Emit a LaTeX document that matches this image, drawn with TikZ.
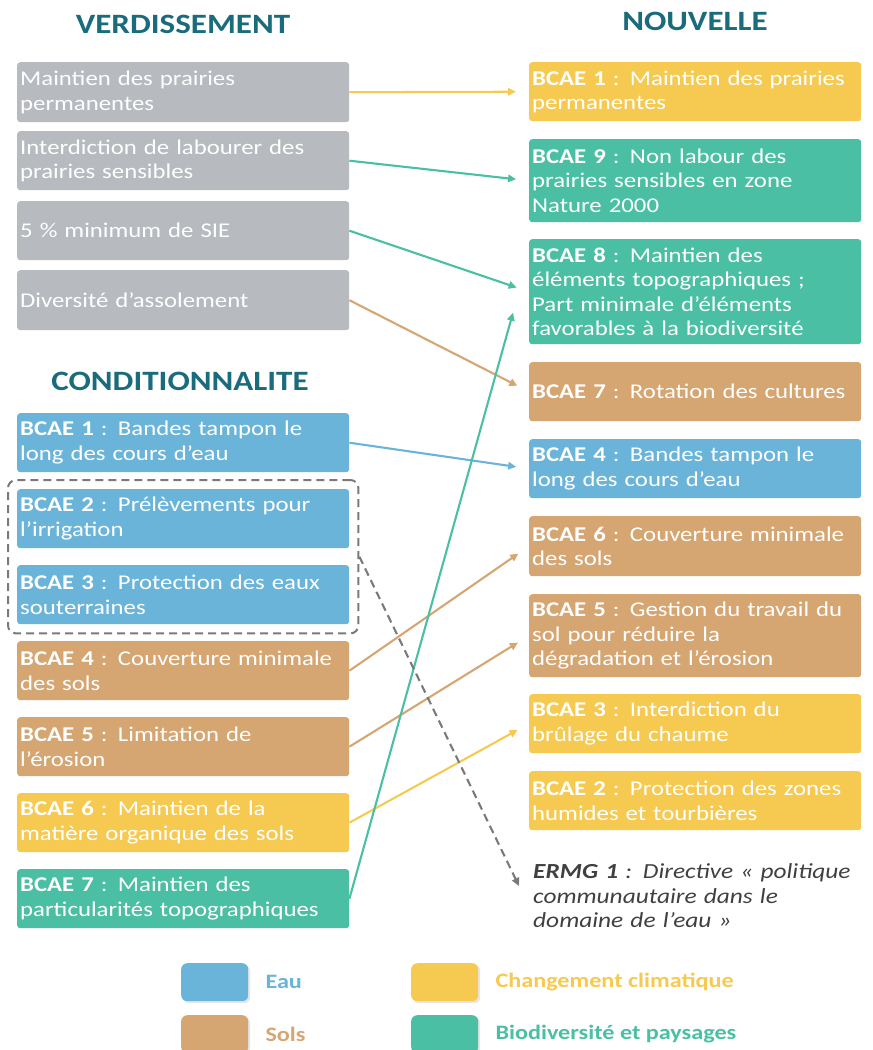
\documentclass[tikz,border=0pt]{standalone}
\usepackage{fontspec}
\setmainfont{Carlito}[FakeStretch=1.18]
\usetikzlibrary{arrows.meta,fit,shadows}
\definecolor{gris}{HTML}{B7BABF}
\definecolor{bleu}{HTML}{6AB4DA}
\definecolor{brun}{HTML}{D5A572}
\definecolor{jaune}{HTML}{F6CA50}
\definecolor{vert}{HTML}{4BBFA4}
\definecolor{titre}{HTML}{1A6B7B}
\definecolor{texte}{HTML}{404040}
\definecolor{tiret}{HTML}{7A7A7A}
\begin{document}
\begin{tikzpicture}[x=1pt,y=-1pt,
  boite/.style={anchor=north west, minimum width=332pt, text width=326pt,
    inner xsep=3pt, inner ysep=0pt, align=left, rounded corners=3pt,
    text=white, font=\fontsize{21}{24.5}\selectfont},
  fleche/.style={line width=2.1pt, -{Triangle[length=8pt,width=7.5pt]}, shorten >=13pt},
  titre/.style={font=\fontsize{28}{32}\selectfont\bfseries, text=titre},
  cle/.style={anchor=north west, minimum width=67pt, minimum height=38pt,
    rounded corners=6pt, drop shadow={opacity=0.2, shadow xshift=2pt, shadow yshift=-2pt}},
  legende/.style={anchor=west, font=\fontsize{20.5}{24}\selectfont\bfseries}]
\useasboundingbox (0,0) rectangle (873,1050);

% titres
\node[titre] (tverd) at (183,24) {VERDISSEMENT};
\node[titre] (tnouv) at (695,21) {NOUVELLE};
\node[titre] (tcond) at (180,381) {CONDITIONNALITE};

% verdissement
\node[boite, fill=gris, minimum height=60pt] (v1) at (17,62) {Maintien des prairies\\permanentes};
\node[boite, fill=gris, minimum height=59pt] (v2) at (17,131) {Interdiction de labourer des\\prairies sensibles};
\node[boite, fill=gris, minimum height=59pt] (v3) at (17,201) {5~\% minimum de SIE};
\node[boite, fill=gris, minimum height=60pt] (v4) at (17,270) {Diversité d’assolement};

% conditionnalite
\node[boite, fill=bleu, minimum height=59pt] (c1) at (17,413) {\textbf{BCAE 1} : Bandes tampon le\\long des cours d’eau};
\node[boite, fill=bleu, minimum height=59pt] (c2) at (17,489) {\textbf{BCAE 2} : Prélèvements pour\\l’irrigation};
\node[boite, fill=bleu, minimum height=59pt] (c3) at (17,565) {\textbf{BCAE 3} : Protection des eaux\\souterraines};
\node[boite, fill=brun, minimum height=59pt] (c4) at (17,641) {\textbf{BCAE 4} : Couverture minimale\\des sols};
\node[boite, fill=brun, minimum height=59pt] (c5) at (17,717) {\textbf{BCAE 5} : Limitation de\\l’érosion};
\node[boite, fill=jaune, minimum height=59pt] (c6) at (17,793) {\textbf{BCAE 6} : Maintien de la\\matière organique des sols};
\node[boite, fill=vert, minimum height=59pt] (c7) at (17,869) {\textbf{BCAE 7} : Maintien des\\particularités topographiques};
\node[draw=tiret, line width=2pt, dash pattern=on 8pt off 5pt, rounded corners=8pt,
  inner sep=9pt, fit=(c2)(c3)] (groupe) {};

% nouvelle
\node[boite, fill=jaune, minimum height=59pt] (n1) at (529,62) {\textbf{BCAE 1} : Maintien des prairies\\permanentes};
\node[boite, fill=vert, minimum height=83pt] (n9) at (529,139) {\textbf{BCAE 9} : Non labour des\\prairies sensibles en zone\\Nature 2000};
\node[boite, fill=vert, minimum height=105pt] (n8) at (529,239) {\textbf{BCAE 8} : Maintien des\\éléments topographiques ;\\Part minimale d’éléments\\favorables à la biodiversité};
\node[boite, fill=brun, minimum height=59pt] (n7) at (529,362) {\textbf{BCAE 7} : Rotation des cultures};
\node[boite, fill=bleu, minimum height=59pt] (n4) at (529,439) {\textbf{BCAE 4} : Bandes tampon le\\long des cours d’eau};
\node[boite, fill=brun, minimum height=60pt] (n6) at (529,516) {\textbf{BCAE 6} : Couverture minimale\\des sols};
\node[boite, fill=brun, minimum height=83pt] (n5) at (529,594) {\textbf{BCAE 5} : Gestion du travail du\\sol pour réduire la\\dégradation et l’érosion};
\node[boite, fill=jaune, minimum height=59pt] (n3) at (529,694) {\textbf{BCAE 3} : Interdiction du\\brûlage du chaume};
\node[boite, fill=jaune, minimum height=59pt] (n2) at (529,771) {\textbf{BCAE 2} : Protection des zones\\humides et tourbières};
\node[anchor=west, inner sep=0pt, text width=335pt, align=left, text=texte,
  font=\fontsize{21.5}{24.5}\selectfont\itshape] (ermg) at (533,896)
  {\textbf{ERMG 1} : Directive «~politique\\communautaire dans le\\domaine de l’eau~»};

% fleches
\draw[fleche, jaune] (v1.east) -- (n1.west);
\draw[fleche, vert] (v2.east) -- (n9.west);
\draw[fleche, vert] (v3.east) -- (n8.west);
\draw[fleche, brun] (v4.east) -- (n7.west);
\draw[fleche, bleu] (c1.east) -- (n4.west);
\draw[fleche, brun] (c4.east) -- (n6.west);
\draw[fleche, brun] (c5.east) -- (n5.west);
\draw[fleche, jaune] (c6.east) -- (n3.west);
\draw[fleche, vert, shorten >=0pt] (c7.east) -- ([xshift=-16pt,yshift=-21pt]n8.west);
\draw[fleche, tiret, shorten >=0pt, dash pattern=on 8pt off 5pt]
  (groupe.east) -- ([xshift=-14pt,yshift=10pt]ermg.west);

% legende
\node[cle, fill=bleu] (keau) at (181,963) {};
\node[cle, fill=jaune] (kclim) at (411,963) {};
\node[cle, fill=brun] (ksols) at (181,1015) {};
\node[cle, fill=vert] (kbio) at (411,1015) {};
\node[legende, text=bleu] (leau) at (262,982) {Eau};
\node[legende, text=jaune] (lclim) at (492,982) {Changement climatique};
\node[legende, text=brun] (lsols) at (262,1034) {Sols};
\node[legende, text=vert] (lbio) at (492,1034) {Biodiversité et paysages};
\end{tikzpicture}
\end{document}
